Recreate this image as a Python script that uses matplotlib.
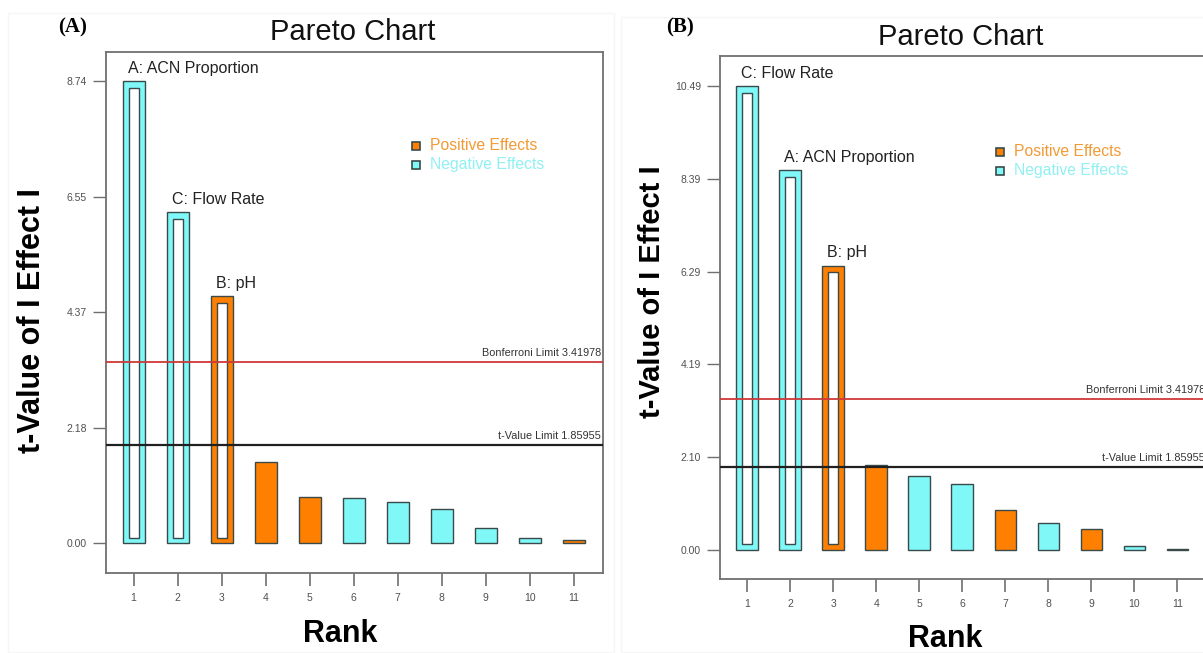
import matplotlib
matplotlib.use("Agg")
import matplotlib.pyplot as plt
from matplotlib.patches import Rectangle
from matplotlib.transforms import offset_copy, blended_transform_factory

plt.rcParams['font.family'] = ['Liberation Sans', 'DejaVu Sans']

# ---------------- data ----------------
ranks = list(range(1, 12))

# Panel A
values_a = [8.74, 6.26, 4.67, 1.54, 0.88, 0.86, 0.78, 0.64, 0.28, 0.09, 0.06]
signs_a = ['neg', 'neg', 'pos', 'pos', 'pos', 'neg', 'neg', 'neg', 'neg', 'neg', 'pos']
names_a = ['A: ACN Proportion', 'C: Flow Rate', 'B: pH']
yticks_a = [0.00, 2.18, 4.37, 6.55, 8.74]
bonf_a = 3.41978
tlim_a = 1.85955

# Panel B
values_b = [10.49, 8.59, 6.42, 1.92, 1.67, 1.49, 0.89, 0.60, 0.46, 0.08, 0.01]
signs_b = ['neg', 'neg', 'pos', 'pos', 'neg', 'neg', 'pos', 'neg', 'pos', 'neg', 'neg']
names_b = ['C: Flow Rate', 'A: ACN Proportion', 'B: pH']
yticks_b = [0.00, 2.10, 4.19, 6.29, 8.39, 10.49]
bonf_b = 3.41978
tlim_b = 1.85955

panel_tags = ['(A)', '(B)']
title = 'Pareto Chart'
xlabel = 'Rank'
ylabel = 't-Value of I Effect I'
legend_labels = ['Positive Effects', 'Negative Effects']

# ---------------- style ----------------
ORANGE = '#ff8000'
CYAN = '#80f8f8'
LEG_TXT = ['#f29a35', '#90f0f2']
EDGE = '#3a4a4a'
SPINE = '#707070'
TICKC = '#505050'
colors = {'pos': ORANGE, 'neg': CYAN}

W, H = 1203, 653
fig = plt.figure(figsize=(W / 100, H / 100), dpi=100)

# very faint frames of the two screenshot panels
for (l, t, r, b) in [(8, 13, 614, 652), (621, 17, 1210, 652)]:
    fig.patches.append(Rectangle((l / W, 1 - b / H), (r - l) / W, (b - t) / H,
                                 transform=fig.transFigure, fill=False,
                                 edgecolor='#f6f6f6', linewidth=1.0, zorder=0))


def px_axes(l, t, r, b):
    return fig.add_axes([l / W, 1 - b / H, (r - l) / W, (b - t) / H])


def draw_panel(ax, values, signs, names, yticks, bonf, tlim, ylim, xlim, leg_xy):
    ax.set_xlim(*xlim)
    ax.set_ylim(*ylim)
    ax.patch.set_alpha(0)
    bw = 0.5
    ax.bar(ranks, values, width=bw, color=[colors[s] for s in signs],
           edgecolor=EDGE, linewidth=1.0, zorder=2)
    # hollow (significant) bars: inner white rectangle inset by ~6 px
    fig.canvas.draw()
    inv = ax.transData.inverted()
    p0 = inv.transform((0, 0))
    p1 = inv.transform((6, 6.5))
    dx, dy = p1[0] - p0[0], p1[1] - p0[1]
    for i in range(3):
        x0 = ranks[i] - bw / 2 + dx
        ax.add_patch(Rectangle((x0, dy * 0.85), bw - 2 * dx, values[i] - dy * 1.85,
                               facecolor='white', edgecolor=EDGE,
                               linewidth=1.0, zorder=3))
        ax.annotate(names[i], xy=(ranks[i], values[i]), xytext=(-6, 13),
                    textcoords='offset pixels', ha='left', va='center',
                    fontsize=11.5, color='#222222', zorder=5)
    # limit lines
    ax.axhline(bonf, color='#d03838', lw=1.3, zorder=4)
    ax.axhline(tlim, color='#202020', lw=1.6, zorder=4)
    tr = blended_transform_factory(ax.transAxes, ax.transData)
    ax.text(0.997, bonf, f'Bonferroni Limit {bonf:.5f}',
            transform=offset_copy(tr, fig=fig, y=9, units='dots'),
            ha='right', va='center', fontsize=7.8, color='#333333', zorder=5)
    ax.text(0.997, tlim, f't-Value Limit {tlim:.5f}',
            transform=offset_copy(tr, fig=fig, y=9, units='dots'),
            ha='right', va='center', fontsize=7.8, color='#333333', zorder=5)
    # ticks
    ax.set_xticks(ranks)
    ax.set_xticklabels([str(r) for r in ranks])
    ax.set_yticks(yticks)
    ax.set_yticklabels([f'{v:.2f}' for v in yticks])
    ax.tick_params(axis='x', direction='out', length=9.5, width=1.2, color=SPINE,
                   labelsize=7.5, labelcolor=TICKC, pad=5)
    ax.tick_params(axis='y', direction='out', length=9.5, width=1.0, color=SPINE,
                   labelsize=7.5, labelcolor=TICKC, pad=4)
    for sp in ax.spines.values():
        sp.set_color(SPINE)
        sp.set_linewidth(1.3)
    # legend
    lx, ly = leg_xy
    for j, (lab, c, tc) in enumerate(zip(legend_labels, [ORANGE, CYAN], LEG_TXT)):
        yy = ly - j * 19 / ax.bbox.height
        ax.plot([lx], [yy], marker='s', markersize=6.0, markerfacecolor=c,
                markeredgecolor=EDGE, markeredgewidth=1.2, transform=ax.transAxes,
                clip_on=False, zorder=6)
        ax.text(lx + 14 / ax.bbox.width, yy, lab, transform=ax.transAxes,
                ha='left', va='center', fontsize=11.3, color=tc, zorder=6)


# Panel A
axA = px_axes(105.5, 52, 602.8, 573)
draw_panel(axA, values_a, signs_a, names_a, yticks_a, bonf_a, tlim_a,
           ylim=(-0.567, 9.289), xlim=(0.361, 11.66), leg_xy=(0.624, 0.8196))

# Panel B (extends past the right edge of the picture)
axB = px_axes(719.7, 56, 1206.3, 579.3)
draw_panel(axB, values_b, signs_b, names_b, yticks_b, bonf_b, tlim_b,
           ylim=(-0.67, 11.17), xlim=(0.366, 11.67), leg_xy=(0.577, 0.8166))

# titles, tags, axis labels
fig.text(353 / W, 1 - 32 / H, title, ha='center', va='center', fontsize=21, color='#111111')
fig.text(961 / W, 1 - 37 / H, title, ha='center', va='center', fontsize=21, color='#111111')
fig.text(73 / W, 1 - 27 / H, panel_tags[0], ha='center', va='center', fontsize=15,
         fontweight='bold', family='Liberation Serif')
fig.text(680 / W, 1 - 27 / H, panel_tags[1], ha='center', va='center', fontsize=15,
         fontweight='bold', family='Liberation Serif')
fig.text(340 / W, 1 - 634 / H, xlabel, ha='center', va='center', fontsize=22, fontweight='bold')
fig.text(945 / W, 1 - 639 / H, xlabel, ha='center', va='center', fontsize=22, fontweight='bold')
fig.text(32 / W, 1 - 321 / H, ylabel, ha='center', va='center', rotation=90,
         fontsize=22, fontweight='bold')
fig.text(652 / W, 1 - 292 / H, ylabel, ha='center', va='center', rotation=90,
         fontsize=21, fontweight='bold')

fig.savefig('out.png', dpi=100)
